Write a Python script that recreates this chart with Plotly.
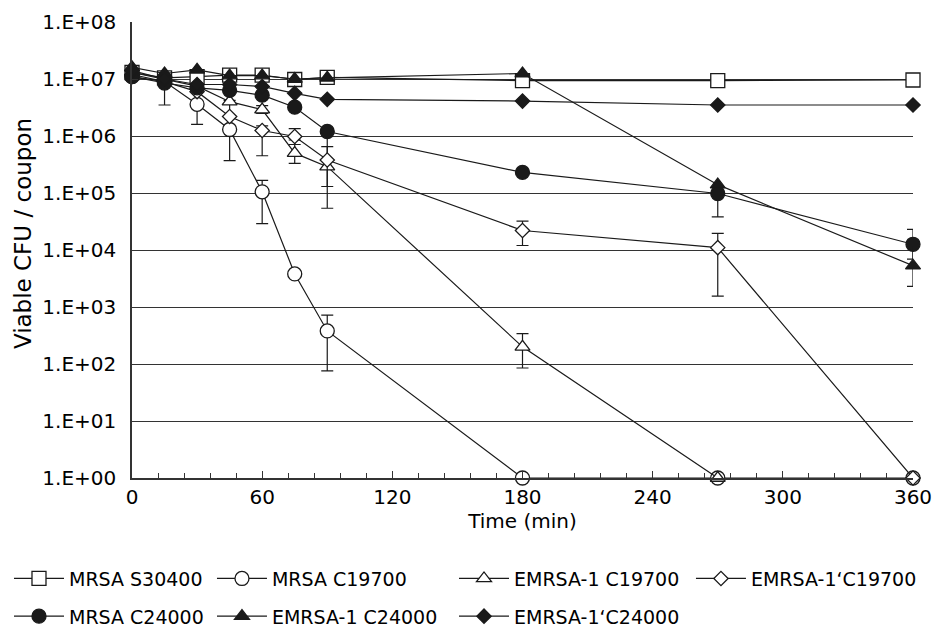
import numpy as np
import plotly.graph_objects as go

# ---------------- data ----------------
times = [0, 15, 30, 45, 60, 75, 90, 180, 270, 360]

names = ["MRSA S30400", "MRSA C19700", "EMRSA-1 C19700", "EMRSA-1\u2018C19700",
         "MRSA C24000", "EMRSA-1 C24000", "EMRSA-1\u2018C24000"]

mrsa_s30400 = [1.3e7, 1.05e7, 1.1e7, 1.17e7, 1.17e7, 9.8e6, 1.07e7, 9.4e6, 9.4e6, 9.6e6]
mrsa_c19700 = [1.1e7, 9.0e6, 3.6e6, 1.3e6, 1.05e5, 3.8e3, 3.8e2, 1, 1, 1]
emrsa1_c19700 = [1.3e7, 1.0e7, 7.5e6, 4.0e6, 2.9e6, 5.0e5, 2.9e5, 2.0e2, 1, None]
emrsa1p_c19700 = [1.2e7, 9.0e6, 6.0e6, 2.2e6, 1.25e6, 9.8e5, 3.8e5, 2.2e4, 1.1e4, 1]
mrsa_c24000 = [1.1e7, 8.5e6, 7.0e6, 6.3e6, 5.2e6, 3.2e6, 1.2e6, 2.3e5, 9.8e4, 1.26e4]
emrsa1_c24000 = [1.6e7, 1.25e7, 1.45e7, 1.15e7, 1.15e7, 1.0e7, 1.05e7, 1.25e7, 1.4e5, 5.3e3]
emrsa1p_c24000 = [1.4e7, 1.0e7, 8.0e6, 8.0e6, 7.4e6, 5.6e6, 4.4e6, 4.1e6, 3.5e6, 3.5e6]

# error-bar bounds (upper / lower ends); None = no bar
N = None
mrsa_s30400_hi = [N] * 10
mrsa_s30400_lo = [N] * 10
mrsa_c19700_hi = [N, N, 8.0e6, 4.2e6, 1.66e5, N, 7.2e2, N, N, N]
mrsa_c19700_lo = [N, 3.5e6, 1.6e6, 3.7e5, 2.9e4, N, 76, N, N, N]
emrsa1_c19700_hi = [N, N, N, N, 3.4e6, 8.5e5, 6.5e5, 3.4e2, N, N]
emrsa1_c19700_lo = [N, N, N, N, 2.5e6, 3.3e5, 5.4e4, 85, N, N]
emrsa1p_c19700_hi = [N, N, N, N, 1.5e6, 1.35e6, 1.1e6, 3.2e4, 1.95e4, N]
emrsa1p_c19700_lo = [N, N, N, N, 4.5e5, 7.1e5, 1.3e5, 1.2e4, 1.55e3, N]
mrsa_c24000_hi = [N, N, N, N, N, N, N, N, N, 2.3e4]
mrsa_c24000_lo = [N, N, N, N, N, N, N, N, 3.8e4, 6.9e3]
emrsa1_c24000_hi = [N, N, N, N, N, N, N, N, N, 1.2e4]
emrsa1_c24000_lo = [N, N, N, N, N, N, N, N, N, 2.3e3]
emrsa1p_c24000_hi = [N] * 10
emrsa1p_c24000_lo = [N] * 10

ytick_vals = [1e0, 1e1, 1e2, 1e3, 1e4, 1e5, 1e6, 1e7, 1e8]
ytick_text = ["1.E+00", "1.E+01", "1.E+02", "1.E+03", "1.E+04",
              "1.E+05", "1.E+06", "1.E+07", "1.E+08"]
xtick_vals = [0, 60, 120, 180, 240, 300, 360]
y_title = "Viable CFU / coupon"
x_title = "Time (min)"

# ---------------- styling ----------------
values = [mrsa_s30400, mrsa_c19700, emrsa1_c19700, emrsa1p_c19700,
          mrsa_c24000, emrsa1_c24000, emrsa1p_c24000]
his = [mrsa_s30400_hi, mrsa_c19700_hi, emrsa1_c19700_hi, emrsa1p_c19700_hi,
       mrsa_c24000_hi, emrsa1_c24000_hi, emrsa1p_c24000_hi]
los = [mrsa_s30400_lo, mrsa_c19700_lo, emrsa1_c19700_lo, emrsa1p_c19700_lo,
       mrsa_c24000_lo, emrsa1_c24000_lo, emrsa1p_c24000_lo]
symbols = ["square", "circle", "triangle-up", "diamond",
           "circle", "triangle-up", "diamond"]
sizes = [14, 14, 13, 11, 14, 13, 11]
filled = [False, False, False, False, True, True, True]
legend_ids = ["legend", "legend2", "legend3", "legend4", "legend", "legend2", "legend3"]

INK = "#1a1a1a"
FONT = "DejaVu Sans"

fig = go.Figure()
for i, name in enumerate(names):
    v = np.array([np.nan if a is None else a for a in values[i]], dtype=float)
    hi = np.array([np.nan if a is None else a for a in his[i]], dtype=float)
    lo = np.array([np.nan if a is None else a for a in los[i]], dtype=float)
    plus = hi - v
    minus = v - lo
    has_err = bool(np.isfinite(plus).any() or np.isfinite(minus).any())
    fig.add_trace(go.Scatter(
        x=times, y=values[i], name=name, mode="lines+markers",
        line=dict(color=INK, width=1.2),
        marker=dict(symbol=symbols[i], size=sizes[i],
                    color=INK if filled[i] else "white",
                    line=dict(color=INK, width=1.3)),
        error_y=dict(type="data", symmetric=False, array=plus, arrayminus=minus,
                     visible=has_err, color=INK, thickness=1.2, width=6),
        cliponaxis=False,
        legend=legend_ids[i], legendgroup=name,
    ))

# dummy trace so the grid-only overlay axis is drawn
fig.add_trace(go.Scatter(x=[], y=[], yaxis="y2", showlegend=False, hoverinfo="skip"))

leg_common = dict(orientation="v", xanchor="left", yanchor="top", y=-0.179,
                  traceorder="grouped", tracegroupgap=10, itemwidth=50,
                  bgcolor="rgba(0,0,0,0)", font=dict(family=FONT, size=19, color="black"))

fig.update_layout(
    width=934, height=629,
    margin=dict(l=132, r=21, t=22, b=151, autoexpand=False),
    paper_bgcolor="white", plot_bgcolor="white",
    font=dict(family=FONT, size=20, color="black"),
    showlegend=True,
    legend=dict(x=-0.1575, **leg_common),
    legend2=dict(x=0.1024, **leg_common),
    legend3=dict(x=0.4123, **leg_common),
    legend4=dict(x=0.7157, **leg_common),
    xaxis=dict(
        range=[0, 360], tickvals=xtick_vals, ticks="inside", ticklen=7,
        tickcolor="#333", tickwidth=1.2,
        minor=dict(dtick=12, tick0=0, ticks="inside", ticklen=5,
                   tickcolor="#333", tickwidth=1),
        showline=True, linecolor="#333", linewidth=1.5, showgrid=False,
        zeroline=False,
        title=dict(text=x_title, font=dict(family=FONT, size=20), standoff=4),
        tickfont=dict(family=FONT, size=20),
    ),
    yaxis=dict(
        type="log", range=[0, 8], tickvals=ytick_vals, ticktext=ytick_text,
        ticks="inside", ticklen=6, tickcolor="#333", tickwidth=1.2,
        ticklabelstandoff=10,
        showline=True, linecolor="#333", linewidth=1.5, showgrid=False,
        zeroline=False,
        tickfont=dict(family=FONT, size=20),
    ),
    yaxis2=dict(
        type="log", range=[0, 8], overlaying="y", anchor="x",
        tickvals=ytick_vals[1:-1], showticklabels=False, ticks="",
        showgrid=True, gridcolor="#333", gridwidth=1.2, showline=False,
        zeroline=False,
    ),
    annotations=[dict(
        text=y_title, textangle=-90, xref="paper", yref="paper",
        x=-0.1396, y=0.537, xanchor="center", yanchor="middle",
        showarrow=False, font=dict(family=FONT, size=23, color="black"),
    )],
)

fig.write_html("out.html", config={"displayModeBar": False},
               post_script="document.body.style.margin='0';document.body.style.overflow='hidden';")
